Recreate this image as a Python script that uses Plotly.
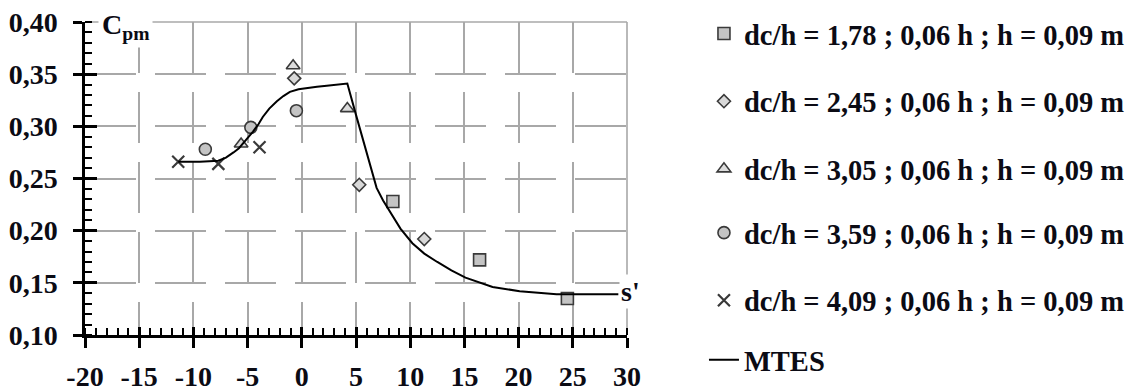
import plotly.graph_objects as go

# ---------------- data ----------------
sq_x = [8.4, 16.4, 24.5]
sq_y = [0.228, 0.172, 0.135]

dia_x = [-0.7, 5.3, 11.3]
dia_y = [0.346, 0.244, 0.192]

tri_x = [-5.6, -0.8, 4.2]
tri_y = [0.283, 0.358, 0.317]

cir_x = [-8.9, -4.7, -0.5]
cir_y = [0.278, 0.299, 0.315]

crs_x = [-11.4, -7.7, -3.9]
crs_y = [0.266, 0.264, 0.280]

mtes_x = [-11.4, -9.4, -7.7, -7.0, -6.3, -5.8, -5.4, -4.9, -4.5, -4.0, -3.6, -3.0, -2.3,
          -1.7, -1.1, -0.3, 0.5, 1.4, 2.3, 3.2, 4.2,
          5.0, 6.0, 6.9, 7.5, 8.1, 9.1, 10.2, 11.3, 12.5, 13.8, 15.1, 17.6, 20.1, 23.5, 29.2]
mtes_y = [0.266, 0.266, 0.267, 0.270, 0.275, 0.279, 0.284, 0.290, 0.295, 0.302, 0.309, 0.317, 0.324,
          0.329, 0.333, 0.3355, 0.337, 0.338, 0.339, 0.340, 0.341,
          0.311, 0.273, 0.241, 0.229, 0.219, 0.202, 0.188, 0.178, 0.170, 0.162, 0.155, 0.146, 0.142, 0.139, 0.139]

series_names = [
    "dc/h = 1,78 ; 0,06 h ; h = 0,09 m",
    "dc/h = 2,45 ; 0,06 h ; h = 0,09 m",
    "dc/h = 3,05 ; 0,06 h ; h = 0,09 m",
    "dc/h = 3,59 ; 0,06 h ; h = 0,09 m",
    "dc/h = 4,09 ; 0,06 h ; h = 0,09 m",
    "MTES",
]

x_tick_vals = [-20, -15, -10, -5, 0, 5, 10, 15, 20, 25, 30]
x_tick_text = ["-20", "-15", "-10", "-5", "0", "5", "10", "15", "20", "25", "30"]
y_tick_vals = [0.10, 0.15, 0.20, 0.25, 0.30, 0.35, 0.40]
y_tick_text = ["0,10", "0,15", "0,20", "0,25", "0,30", "0,35", "0,40"]

# ---------------- style ----------------
FONT = "Liberation Serif"
TXT = "#0b0b14"
GRID = "#a8a8a8"
EDGE = "#3a3a3a"
FS = 28
LFS = 28.5

fig = go.Figure()

def add_markers(x, y, name, symbol, size, fill, grp, leg, lw=1.6):
    fig.add_trace(go.Scatter(
        x=x, y=y, mode="markers", name=name, legendgroup=grp, legend=leg,
        marker=dict(symbol=symbol, size=size, color=fill,
                    line=dict(color=EDGE, width=lw)),
    ))

add_markers(sq_x, sq_y, series_names[0], "square", 12, "#c4c4c4", "a", "legend")
add_markers(dia_x, dia_y, series_names[1], "diamond", 10, "#d8d8d8", "b", "legend")
add_markers(tri_x, tri_y, series_names[2], "triangle-up", 12, "#dcdcdc", "c", "legend")
add_markers(cir_x, cir_y, series_names[3], "circle", 12, "#c4c4c4", "d", "legend2")
fig.add_trace(go.Scatter(
    x=crs_x, y=crs_y, mode="markers", name=series_names[4], legendgroup="e",
    legend="legend2",
    marker=dict(symbol="x-thin", size=12, color=EDGE,
                line=dict(color=EDGE, width=2.2)),
))
fig.add_trace(go.Scatter(
    x=mtes_x, y=mtes_y, mode="lines", name=series_names[5], legendgroup="f",
    legend="legend3",
    line=dict(color="black", width=2),
))
# empty trace so the overlay axes (inside tick halves) are instantiated
fig.add_trace(go.Scatter(x=[], y=[], xaxis="x2", yaxis="y2", showlegend=False,
                         hoverinfo="skip"))

lfont = dict(family=FONT, size=LFS, color=TXT, weight="bold")
legend_common = dict(
    xanchor="left", yanchor="top", font=lfont,
    tracegroupgap=27.6, traceorder="grouped",
    bgcolor="rgba(0,0,0,0)", itemwidth=30,
)

fig.update_layout(
    width=1138, height=392,
    margin=dict(l=85, r=511, t=22, b=57, autoexpand=False),
    paper_bgcolor="white", plot_bgcolor="white",
    font=dict(family=FONT, size=FS, color=TXT, weight="bold"),
    showlegend=True,
    legend=dict(legend_common, x=1.142, y=1.043),
    legend2=dict(legend_common, x=1.142, y=0.407),
    legend3=dict(legend_common, x=1.142, y=0.001),
    xaxis=dict(
        range=[-20, 30], tickvals=x_tick_vals, ticktext=x_tick_text,
        showline=True, linecolor="black", linewidth=2.5,
        ticks="outside", ticklen=10, tickwidth=2.5, tickcolor="black",
        showgrid=True, gridcolor=GRID, gridwidth=1.5, griddash="51px,19px",
        zeroline=False, tickfont=dict(family=FONT, size=FS, color=TXT, weight="bold"),
        ticklabelstandoff=5, automargin=False,
        minor=dict(ticks="inside", dtick=1, tick0=0, ticklen=7, tickwidth=2,
                   tickcolor="black", showgrid=False),
    ),
    xaxis2=dict(
        range=[-20, 30], overlaying="x", anchor="y", side="bottom",
        tickvals=x_tick_vals, ticks="inside", ticklen=8, tickwidth=2.5,
        tickcolor="black", showticklabels=False, showgrid=False,
        showline=False, zeroline=False, automargin=False,
    ),
    yaxis=dict(
        range=[0.10, 0.40], tickvals=y_tick_vals, ticktext=y_tick_text,
        showline=True, linecolor="black", linewidth=2.5,
        ticks="outside", ticklen=9, tickwidth=2.5, tickcolor="black",
        showgrid=True, gridcolor=GRID, gridwidth=1.5, griddash="51px,19px",
        zeroline=False, tickfont=dict(family=FONT, size=FS, color=TXT, weight="bold"),
        ticklabelstandoff=10, automargin=False,
        minor=dict(ticks="inside", dtick=0.01, tick0=0, ticklen=7, tickwidth=2,
                   tickcolor="black", showgrid=False),
    ),
    yaxis2=dict(
        range=[0.10, 0.40], overlaying="y", anchor="x", side="left",
        tickvals=y_tick_vals, ticks="inside", ticklen=12, tickwidth=2.5,
        tickcolor="black", showticklabels=False, showgrid=False,
        showline=False, zeroline=False, automargin=False,
    ),
    shapes=[
        dict(type="line", xref="paper", yref="paper", x0=0, x1=1, y0=1, y1=1,
             line=dict(color=GRID, width=1.6), layer="below"),
        dict(type="line", xref="paper", yref="paper", x0=1, x1=1, y0=0, y1=1,
             line=dict(color=GRID, width=1.6), layer="below"),
    ],
    annotations=[
        dict(text="C<sub>pm</sub>", xref="paper", yref="paper", x=0.024, y=1.0,
             xanchor="left", yanchor="middle", yshift=-4, showarrow=False,
             font=dict(family=FONT, size=FS, color=TXT, weight="bold"),
             bgcolor="white", borderpad=3),
        dict(text="s'", xref="x", yref="y", x=29.3, y=0.139,
             xanchor="left", yanchor="middle", yshift=3, showarrow=False,
             font=dict(family=FONT, size=FS, color=TXT, weight="bold"),
             bgcolor="white", borderpad=1),
    ],
)

fig.write_html("out.html")
